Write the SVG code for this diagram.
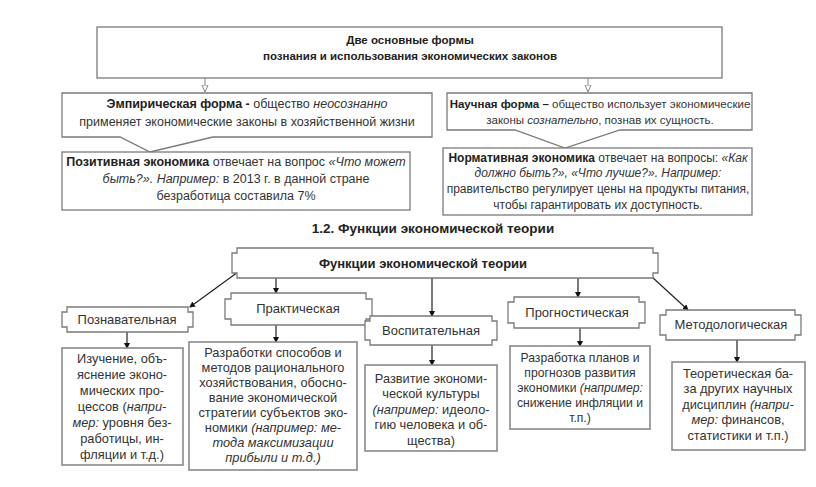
<svg xmlns="http://www.w3.org/2000/svg" width="816" height="487" viewBox="0 0 816 487">
<style>
text{font-family:"Liberation Sans",Arial,sans-serif;fill:#333;font-size:11.5px}
.b{font-weight:bold;fill:#222}
.i{font-style:italic}
.m{text-anchor:middle}
.f12{font-size:12px}
.f125{font-size:12.5px}
.lbl{font-size:13px}
.d{font-size:12.8px}
.box{fill:#fff;stroke:#7a7a7a;stroke-width:1.3}
.dbox{fill:#fff;stroke:#8a8a8a;stroke-width:1.6}
.ln{fill:none;stroke:#222;stroke-width:1.2}
.hl{fill:none;stroke:#888;stroke-width:1}
</style>
<defs>
<marker id="ah" viewBox="0 0 6 6" refX="5" refY="3" markerWidth="6" markerHeight="6" orient="auto" markerUnits="userSpaceOnUse"><path d="M0,0 L6,3 L0,6 Z" fill="#111"/></marker>
<marker id="ho" viewBox="0 0 8 8" refX="7" refY="4" markerWidth="8" markerHeight="8" orient="auto" markerUnits="userSpaceOnUse"><path d="M0,1 L7,4 L0,7 Z" fill="#fff" stroke="#888" stroke-width="1"/></marker>
</defs>
<rect width="816" height="487" fill="#fff"/>

<g id="connectors">
<line class="hl" x1="205" y1="78" x2="205" y2="92" marker-end="url(#ho)"/>
<line class="hl" x1="588" y1="78" x2="588" y2="92" marker-end="url(#ho)"/>
<line class="ln" x1="238" y1="272" x2="190" y2="307" marker-end="url(#ah)"/>
<line class="ln" x1="276" y1="278" x2="276" y2="293" marker-end="url(#ah)"/>
<line class="ln" x1="432" y1="278" x2="432" y2="316" marker-end="url(#ah)"/>
<line class="ln" x1="578" y1="278" x2="578" y2="297" marker-end="url(#ah)"/>
<line class="ln" x1="652" y1="277" x2="688" y2="310" marker-end="url(#ah)"/>
<line class="ln" x1="127" y1="332" x2="127" y2="348" marker-end="url(#ah)"/>
<line class="ln" x1="276" y1="325" x2="276" y2="342" marker-end="url(#ah)"/>
<line class="ln" x1="432" y1="345" x2="432" y2="365" marker-end="url(#ah)"/>
<line class="ln" x1="580" y1="328" x2="580" y2="346" marker-end="url(#ah)"/>
<line class="ln" x1="737" y1="340" x2="737" y2="362" marker-end="url(#ah)"/>
</g>

<g id="top">
<rect class="box" x="97" y="27" width="625" height="51"/>
<text class="b m" x="410" y="44">Две основные формы</text>
<text class="b m" x="410" y="60">познания и использования экономических законов</text>
</g>

<g id="empirical">
<path class="box" d="M62,93 H432 V137 H213 L150,152 L120,137 H62 Z"/>
<text class="m f125" x="247" y="108"><tspan class="b">Эмпирическая форма - </tspan>общество <tspan class="i">неосознанно</tspan></text>
<text class="m f125" x="247" y="126">применяет экономические законы в хозяйственной жизни</text>
</g>

<g id="positive">
<rect class="box" x="62" y="152" width="348" height="58"/>
<text class="m f125" x="236" y="166"><tspan class="b">Позитивная экономика</tspan> отвечает на вопрос <tspan class="i">«Что может</tspan></text>
<text class="m f125" x="236" y="183"><tspan class="i">быть?». Например:</tspan> в 2013 г. в данной стране</text>
<text class="m f125" x="236" y="200">безработица составила 7%</text>
</g>

<g id="scientific">
<path class="box" d="M447,93 H752 V130 H620 L565,148 L515,130 H447 Z"/>
<text class="m" x="600" y="108"><tspan class="b">Научная форма – </tspan>общество использует экономические</text>
<text class="m" x="600" y="124">законы <tspan class="i">сознательно</tspan>, познав их сущность.</text>
</g>

<g id="normative">
<rect class="box" x="443" y="148" width="309" height="67"/>
<text class="m f12" x="598" y="162"><tspan class="b">Нормативная экономика</tspan> отвечает на вопросы: <tspan class="i">«Как</tspan></text>
<text class="m f12" x="598" y="177"><tspan class="i">должно быть?», «Что лучше?». Например:</tspan></text>
<text class="m f12" x="598" y="193">правительство регулирует цены на продукты питания,</text>
<text class="m f12" x="598" y="209">чтобы гарантировать их доступность.</text>
</g>

<text class="b m" x="433" y="233" style="font-size:13.5px">1.2. Функции экономической теории</text>

<g id="functions">
<path class="box" d="M237,248 H653 V253 H658 V273 H653 V278 H237 V273 H232 V253 H237 Z"/>
<text class="b m lbl" x="423" y="268">Функции экономической теории</text>
</g>

<g id="cognitive">
<path class="box" d="M67,307 H188 V312 H193 V327 H188 V332 H67 V327 H62 V312 H67 Z"/>
<text class="m lbl" x="127" y="324">Познавательная</text>
</g>
<g id="cognitive-desc">
<rect class="dbox" x="62" y="348" width="121" height="117"/>
<text class="m d" x="122" y="363">Изучение, объ-</text>
<text class="m d" x="122" y="379">яснение эконо-</text>
<text class="m d" x="122" y="395">мических про-</text>
<text class="m d" x="122" y="411">цессов (<tspan class="i">напри-</tspan></text>
<text class="m d" x="122" y="427"><tspan class="i">мер:</tspan> уровня без-</text>
<text class="m d" x="122" y="443">работицы, ин-</text>
<text class="m d" x="122" y="459">фляции и т.д.)</text>
</g>

<g id="practical">
<path class="box" d="M231,293 H366 V299 H372 V319 H366 V325 H231 V319 H225 V299 H231 Z"/>
<text class="m lbl" x="298" y="313">Практическая</text>
</g>
<g id="practical-desc">
<rect class="dbox" x="189" y="342" width="168" height="128"/>
<text class="m d" x="273" y="357">Разработки способов и</text>
<text class="m d" x="273" y="372">методов рационального</text>
<text class="m d" x="273" y="387">хозяйствования, обосно-</text>
<text class="m d" x="273" y="402">вание экономической</text>
<text class="m d" x="273" y="417">стратегии субъектов эко-</text>
<text class="m d" x="273" y="432">номики <tspan class="i">(например: ме-</tspan></text>
<text class="m i d" x="273" y="447">тода максимизации</text>
<text class="m i d" x="273" y="462">прибыли и т.д.)</text>
</g>

<g id="educational">
<path class="box" d="M370,316 H492 V321 H497 V340 H492 V345 H370 V340 H365 V321 H370 Z"/>
<text class="m lbl" x="431" y="335">Воспитательная</text>
</g>
<g id="educational-desc">
<rect class="dbox" x="365" y="365" width="132" height="86"/>
<text class="m d" x="431" y="383">Развитие экономи-</text>
<text class="m d" x="431" y="398">ческой культуры</text>
<text class="m d" x="431" y="414"><tspan class="i">(например:</tspan> идеоло-</text>
<text class="m d" x="431" y="429">гию человека и об-</text>
<text class="m d" x="431" y="445">щества)</text>
</g>

<g id="prognostic">
<path class="box" d="M514,297 H639 V302 H645 V323 H639 V328 H514 V323 H508 V302 H514 Z"/>
<text class="m lbl" x="577" y="317">Прогностическая</text>
</g>
<g id="prognostic-desc">
<rect class="dbox" x="510" y="346" width="140" height="83"/>
<text class="m" x="580" y="362" style="font-size:12.2px">Разработка планов и</text>
<text class="m" x="580" y="377" style="font-size:12.2px">прогнозов развития</text>
<text class="m" x="580" y="392" style="font-size:12.2px">экономики  <tspan class="i">(например:</tspan></text>
<text class="m" x="580" y="407" style="font-size:12.2px">снижение инфляции и</text>
<text class="m" x="580" y="422" style="font-size:12.2px">т.п.)</text>
</g>

<g id="methodological">
<path class="box" d="M666,310 H795 V315 H801 V335 H795 V340 H666 V335 H660 V315 H666 Z"/>
<text class="m lbl" x="731" y="329">Методологическая</text>
</g>
<g id="methodological-desc">
<rect class="dbox" x="672" y="362" width="133" height="88"/>
<text class="m d" x="738" y="378">Теоретическая ба-</text>
<text class="m d" x="738" y="393">за других научных</text>
<text class="m d" x="738" y="409">дисциплин <tspan class="i">(напри-</tspan></text>
<text class="m d" x="738" y="424"><tspan class="i">мер:</tspan> финансов,</text>
<text class="m d" x="738" y="440">статистики и т.п.)</text>
</g>
</svg>
